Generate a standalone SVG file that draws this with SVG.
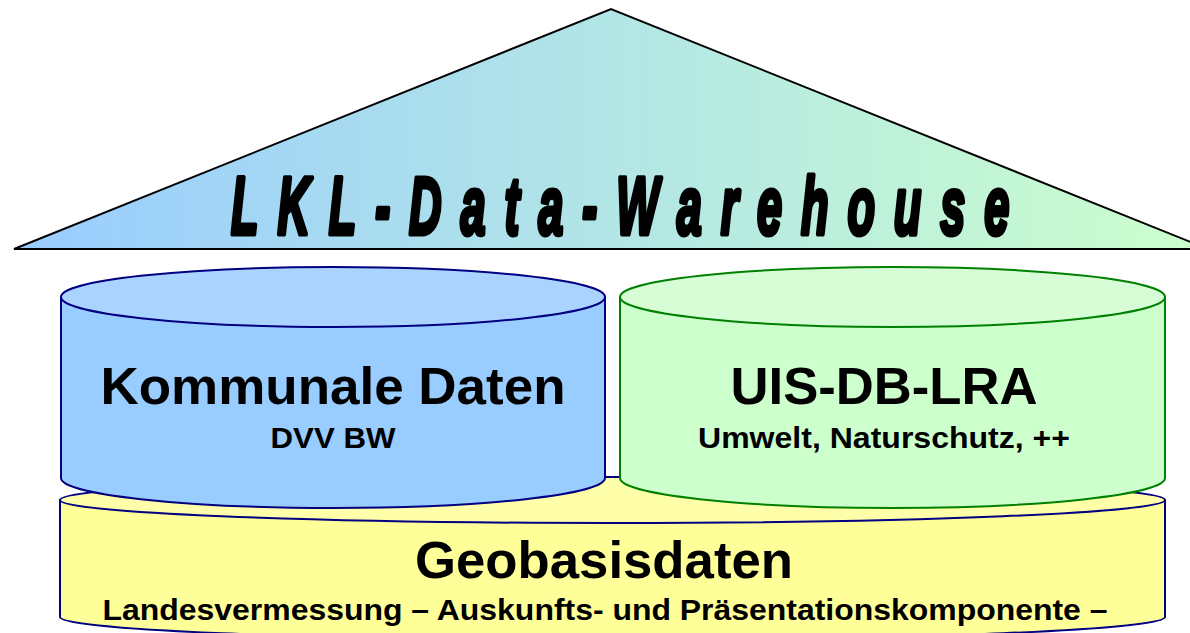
<svg xmlns="http://www.w3.org/2000/svg" width="1190" height="633" viewBox="0 0 1190 633">
<defs>
<linearGradient id="roof" x1="0" y1="0" x2="1" y2="0">
<stop offset="0" stop-color="#99ccff"/>
<stop offset="1" stop-color="#ccffcc"/>
</linearGradient>
<style>
.t{font-family:"Liberation Sans",Arial,sans-serif;font-weight:bold;fill:#000;text-anchor:middle}
.blue{fill:#99ccff;stroke:#000080;stroke-width:2}
.bluetop{fill:#aad4ff;stroke:#000080;stroke-width:2}
.green{fill:#ccffcc;stroke:#008000;stroke-width:2}
.greentop{fill:#d6fdd6;stroke:#008000;stroke-width:2}
.yellow{fill:#ffff99;stroke:#000080;stroke-width:2}
.yellowtop{fill:#ffffaa;stroke:#000080;stroke-width:2}
</style>
</defs>
<rect width="1190" height="633" fill="#ffffff"/>
<g id="roof-node">
<polygon points="14,249 611,9 1208,249" fill="url(#roof)" stroke="#000" stroke-width="2"/>
<text transform="translate(231,234) scale(0.55,1)" x="0" y="0" textLength="1415" lengthAdjust="spacing" style="font-family:'Liberation Sans',Arial,sans-serif;font-weight:bold;font-style:italic;font-size:82px" fill="#000" stroke="#000" stroke-width="5" stroke-linejoin="round">LKL-Data-Warehouse</text>
</g>
<g id="geobasisdaten">
<path class="yellow" d="M60,500 L60,617 A552.5,23 0 0 0 1165,617 L1165,500 Z"/>
<ellipse class="yellowtop" cx="612.5" cy="500" rx="552.5" ry="23"/>
<text class="t" x="604" y="578" font-size="52" textLength="378" lengthAdjust="spacingAndGlyphs">Geobasisdaten</text>
<text class="t" x="605" y="620" font-size="29" textLength="1005" lengthAdjust="spacingAndGlyphs">Landesvermessung – Auskunfts- und Präsentationskomponente –</text>
</g>
<g id="kommunale-daten">
<path class="blue" d="M61,297 L61,478 A272,30 0 0 0 605,478 L605,297 Z"/>
<ellipse class="bluetop" cx="333" cy="297" rx="272" ry="30"/>
<text class="t" x="333" y="404" font-size="52" textLength="465" lengthAdjust="spacingAndGlyphs">Kommunale Daten</text>
<text class="t" x="333" y="448" font-size="30" textLength="125" lengthAdjust="spacingAndGlyphs">DVV BW</text>
</g>
<g id="uis-db-lra">
<path class="green" d="M620,297 L620,478 A272.5,30 0 0 0 1165,478 L1165,297 Z"/>
<ellipse class="greentop" cx="892.5" cy="297" rx="272.5" ry="30"/>
<text class="t" x="884" y="404" font-size="52" textLength="307" lengthAdjust="spacingAndGlyphs">UIS-DB-LRA</text>
<text class="t" x="884" y="448" font-size="30" textLength="372" lengthAdjust="spacingAndGlyphs">Umwelt, Naturschutz, ++</text>
</g>
<g id="connectors"/>
</svg>
